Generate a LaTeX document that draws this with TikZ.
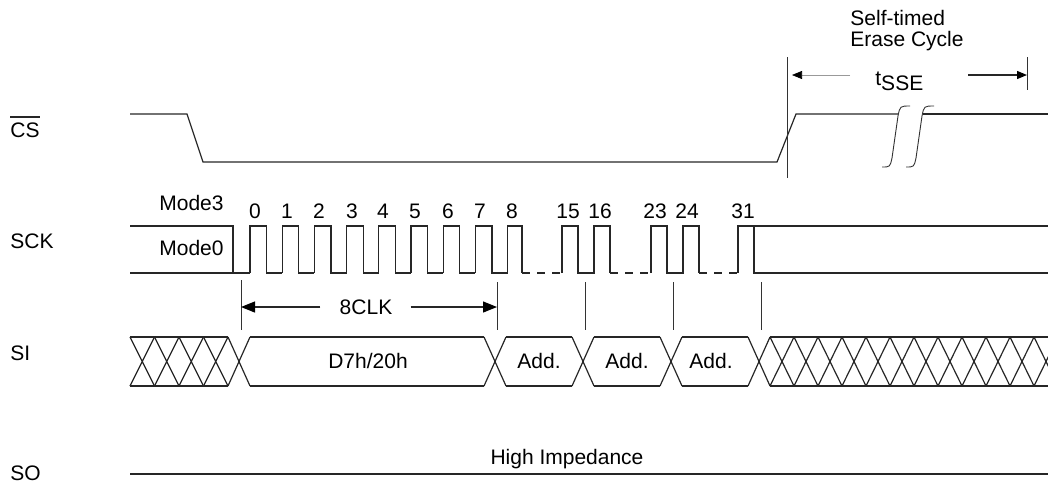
\documentclass[tikz,border=0pt]{standalone}
\usepackage{fontspec}
\setmainfont{Liberation Sans}
\usetikzlibrary{arrows.meta}
\begin{document}
\begin{tikzpicture}[x=0.5pt,y=-0.5pt,
  wave/.style={line width=0.6pt, line join=miter, color=black!85},
  thinl/.style={line width=0.45pt, color=black!80},
  lbl/.style={inner sep=0pt, font=\fontsize{10.5}{10}\selectfont},
  bigarrow/.style={-{Triangle[length=7pt,width=5.5pt,color=black]}},
  smallarrow/.style={-{Triangle[length=5pt,width=4pt,color=black]}}]
\useasboundingbox (0,0) rectangle (1048,483);

% signal names
\node[lbl,anchor=base west] (cs) at (10,137) {CS};
\draw[wave] ([yshift=2.5pt]cs.north west) -- ([yshift=2.5pt]cs.north east);
\node[lbl,anchor=base west] (sck) at (10,248) {SCK};
\node[lbl,anchor=base west] (si) at (10,360) {SI};
\node[lbl,anchor=base west] (so) at (10,480) {SO};

% CS waveform
\draw[wave] (130,114) -- (187,114) -- (203,162) -- (777,162) -- (796,114) -- (898,114);
\draw[wave] (923,114) -- (1048,114);
\draw[thinl] (882,167) .. controls (890,167) .. (892,158) -- (898,116) .. controls (900,106) .. (910,106);
\draw[thinl] (906,167) .. controls (914,167) .. (916,158) -- (922,116) .. controls (924,106) .. (934,106);

% tSSE
\coordinate (vt1) at (787,57); \coordinate (vb1) at (787,178);
\coordinate (vt2) at (1027,57); \coordinate (vb2) at (1027,90);
\draw[thinl] (vt1) -- (vb1);
\draw[thinl] (vt2) -- (vb2);
\coordinate (al1) at (850,75); \coordinate (ar1) at (792,75);
\coordinate (al2) at (968,75); \coordinate (ar2) at (1027,75);
\draw[smallarrow, line width=0.35pt, color=black!40] (al1) -- (ar1);
\draw[smallarrow, wave] (al2) -- (ar2);
\node[lbl,anchor=base west] (st) at (850,25) {Self-timed};
\node[lbl,anchor=base west] (ec) at (850,46) {Erase Cycle};
\node[lbl,anchor=base west] (tsse) at (875,90) {\raisebox{2.5pt}{t}SSE};

% SCK waveform
\draw[wave] (130,226) -- (233,226) -- (233,273);
\draw[wave] (130,273) -- (250,273);
\foreach \k in {0,...,7} {
  \pgfmathsetmacro\r{250+32.2*\k}
  \draw[wave] (\r,273) -- (\r,226) -- (\r+16.5,226) -- (\r+16.5,273) -- (\r+32.2,273);
}
\draw[wave] (507.6,273) -- (507.6,226) -- (522,226) -- (522,273);
\draw[wave,dash pattern=on 4pt off 3.5pt] (522,273) -- (562,273);
\draw[wave] (562,273) -- (562,226) -- (578,226) -- (578,273) -- (594,273) -- (594,226) -- (610,226) -- (610,273);
\draw[wave,dash pattern=on 4pt off 3.5pt] (610,273) -- (651,273);
\draw[wave] (651,273) -- (651,226) -- (667,226) -- (667,273) -- (683,273) -- (683,226) -- (699,226) -- (699,273);
\draw[wave,dash pattern=on 4pt off 3.5pt] (699,273) -- (738,273);
\draw[wave] (738,273) -- (738,226) -- (1048,226);
\draw[wave] (754,226) -- (754,273) -- (1048,273);

\node[lbl,anchor=base west] (m3) at (159,210) {Mode3};
\node[lbl,anchor=base west] (m0) at (159,255) {Mode0};
\foreach \x/\n in {255/0,287/1,319/2,352/3,383/4,415/5,448/6,480/7,512/8,568/15,600/16,655/23,687/24,743/31} {
  \node[lbl,anchor=base] (c\n) at (\x,218) {\n};
}

% ticks and 8CLK
\draw[thinl] (241,280) -- (241,330);
\foreach \x in {497,585,673,761} { \draw[thinl] (\x,282) -- (\x,330); }
\node[lbl] (clk) at (366,307) {8CLK};
\coordinate (kl) at (241,307); \coordinate (kr) at (497,307);
\draw[bigarrow, wave] ([xshift=-9.5pt]clk.west) -- (kl);
\draw[bigarrow, wave] ([xshift=9pt]clk.east) -- (kr);

% SI bus
\draw[wave] (130,337) -- (228,337) (130,386) -- (228,386);
\foreach \i in {0,...,3} {
  \pgfmathsetmacro\a{130+24.5*\i}
  \draw[wave] (\a,337) -- (\a+24.5,386) (\a,386) -- (\a+24.5,337);
}
\foreach \c in {239,495,583,671,759} {
  \draw[wave] (\c-11,337) -- (\c+11,386) (\c-11,386) -- (\c+11,337);
}
\draw[wave] (250,337) -- (484,337) (250,386) -- (484,386);
\draw[wave] (506,337) -- (572,337) (506,386) -- (572,386);
\draw[wave] (594,337) -- (660,337) (594,386) -- (660,386);
\draw[wave] (682,337) -- (748,337) (682,386) -- (748,386);
\begin{scope}
  \clip (0,0) rectangle (1048,483);
  \draw[wave] (770,337) -- (1048,337) (770,386) -- (1048,386);
  \foreach \i in {0,...,11} {
    \pgfmathsetmacro\a{770+24*\i}
    \draw[wave] (\a,337) -- (\a+24,386) (\a,386) -- (\a+24,337);
  }
\end{scope}
\node[lbl] (d7) at (368,361) {D7h/20h};
\node[lbl] (ad1) at (539,361) {Add.};
\node[lbl] (ad2) at (627,361) {Add.};
\node[lbl] (ad3) at (711,361) {Add.};

% SO
\draw[wave] (130,474) -- (1048,474);
\node[lbl,anchor=base] (hz) at (567,464) {High Impedance};
\end{tikzpicture}
\end{document}
